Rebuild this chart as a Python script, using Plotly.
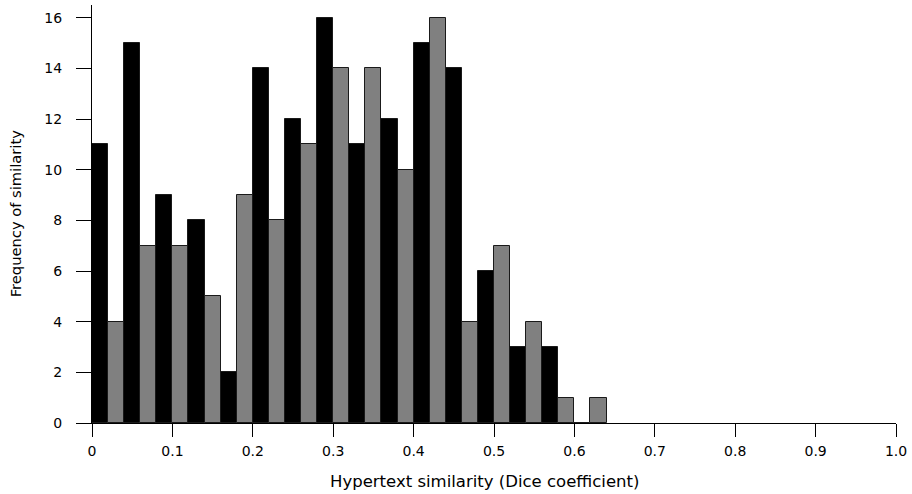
import numpy as np
import plotly.graph_objects as go

# Histogram of Dice coefficients, bin width 0.02 starting at 0
bin_width = 0.02
counts = [11, 4, 15, 7, 9, 7, 8, 5, 2, 9,
          14, 8, 12, 11, 16, 14, 11, 14, 12, 10,
          15, 16, 14, 4, 6, 7, 3, 4, 3, 1,
          0, 1]
bar_colors = ["#000000", "#808080"]
x_ticks = [0, 0.1, 0.2, 0.3, 0.4, 0.5, 0.6, 0.7, 0.8, 0.9, 1.0]
x_tick_labels = ["0", "0.1", "0.2", "0.3", "0.4", "0.5", "0.6", "0.7", "0.8", "0.9", "1.0"]
y_ticks = [0, 2, 4, 6, 8, 10, 12, 14, 16]

centers = np.arange(len(counts)) * bin_width + bin_width / 2
colors = [bar_colors[i % 2] for i in range(len(counts))]

font = "DejaVu Sans, Verdana, sans-serif"

fig = go.Figure()
fig.add_trace(go.Bar(
    x=centers, y=counts, width=bin_width,
    marker=dict(color=colors, line=dict(color="#1a1a1a", width=1)),
    hoverinfo="x+y",
))

fig.update_layout(
    width=912, height=494,
    margin=dict(l=92, r=13, t=5, b=71),
    paper_bgcolor="white", plot_bgcolor="white",
    showlegend=False, bargap=0,
    font=dict(family=font, size=14, color="black"),
    annotations=[
        dict(text="Hypertext similarity (Dice coefficient)", xref="paper", yref="paper",
             x=0.488, y=-0.141, xanchor="center", yanchor="middle", showarrow=False,
             font=dict(size=16.5, family=font, color="black")),
        dict(text="Frequency of similarity", xref="paper", yref="paper",
             x=-0.0954, y=0.5, xanchor="center", yanchor="middle", showarrow=False,
             textangle=-90, font=dict(size=14.7, family=font, color="black")),
    ],
)
fig.update_xaxes(
    range=[0, 1.0], tickvals=x_ticks, ticktext=x_tick_labels,
    showline=True, linecolor="black", linewidth=1,
    ticks="outside", ticklen=13, tickcolor="black", tickwidth=1,
    showgrid=False, zeroline=False, ticklabelstandoff=2,
    tickfont=dict(size=14, family=font, color="black"),
)
fig.update_yaxes(
    range=[0, 16.5], tickvals=y_ticks,
    showline=True, linecolor="black", linewidth=1,
    ticks="outside", ticklen=15, tickcolor="black", tickwidth=1,
    showgrid=False, zeroline=False, ticklabelstandoff=11,
    tickfont=dict(size=14, family=font, color="black"),
)

fig.write_html(
    "out.html",
    config={"displayModeBar": False},
    post_script="document.body.style.margin='0';document.body.style.padding='0';",
)
